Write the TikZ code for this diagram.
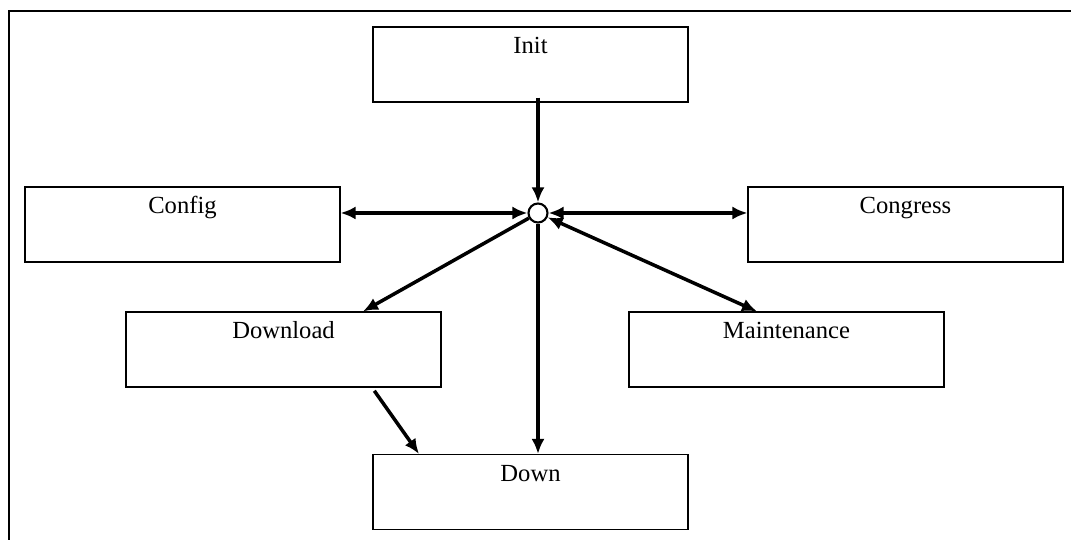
\documentclass[tikz,border=0pt]{standalone}
\usepackage{fontspec}
\setmainfont{Liberation Serif}
\usepackage{tikz}
\usetikzlibrary{arrows.meta}

\begin{document}
\begin{tikzpicture}[
    box/.style={draw, line width=0.6pt, minimum width=6.3cm, inner sep=0pt, text height=0.54cm, text depth=0.96cm, font=\fontsize{14}{16}\selectfont},
    arr/.style={line width=2pt, -{Latex[length=3mm,width=2.6mm]}},
    both/.style={line width=2pt, {Latex[length=3mm,width=2.6mm]}-{Latex[length=3mm,width=2.6mm]}}
  ]
    \useasboundingbox (0,0) rectangle (21.42,10.8);
    \draw[line width=1.6pt] (21.6,10.58) -- (0.18,10.58) -- (0.18,-0.2);

    \node[box] (init) at (10.61,9.51) {Init};
    \node[box] (config) at (3.65,6.31) {Config};
    \node[box] (congress) at (18.11,6.31) {Congress};
    \node[box] (download) at (5.67,3.81) {Download};
    \node[box] (maint) at (15.73,3.81) {Maintenance};
    \node[box] (down) at (10.61,0.96) {Down};
    \node[draw, circle, line width=1.2pt, minimum size=0.38cm, inner sep=0pt] (hub) at (10.76,6.54) {};

    \draw[arr, shorten <=-1mm] (init.south -| hub) -- (hub);
    \draw[both] (config.east |- hub) -- (hub);
    \draw[both] (hub) -- (congress.west |- hub);
    \draw[arr] (hub) -- ([xshift=1.59cm]download.north);
    \draw[both] (hub) -- ([xshift=-0.59cm]maint.north);
    \draw[arr] (hub) -- (down.north -| hub);
    \draw[arr, shorten <=0.08cm] ([xshift=1.77cm]download.south) -- ([xshift=-2.23cm]down.north);
\end{tikzpicture}
\end{document}
